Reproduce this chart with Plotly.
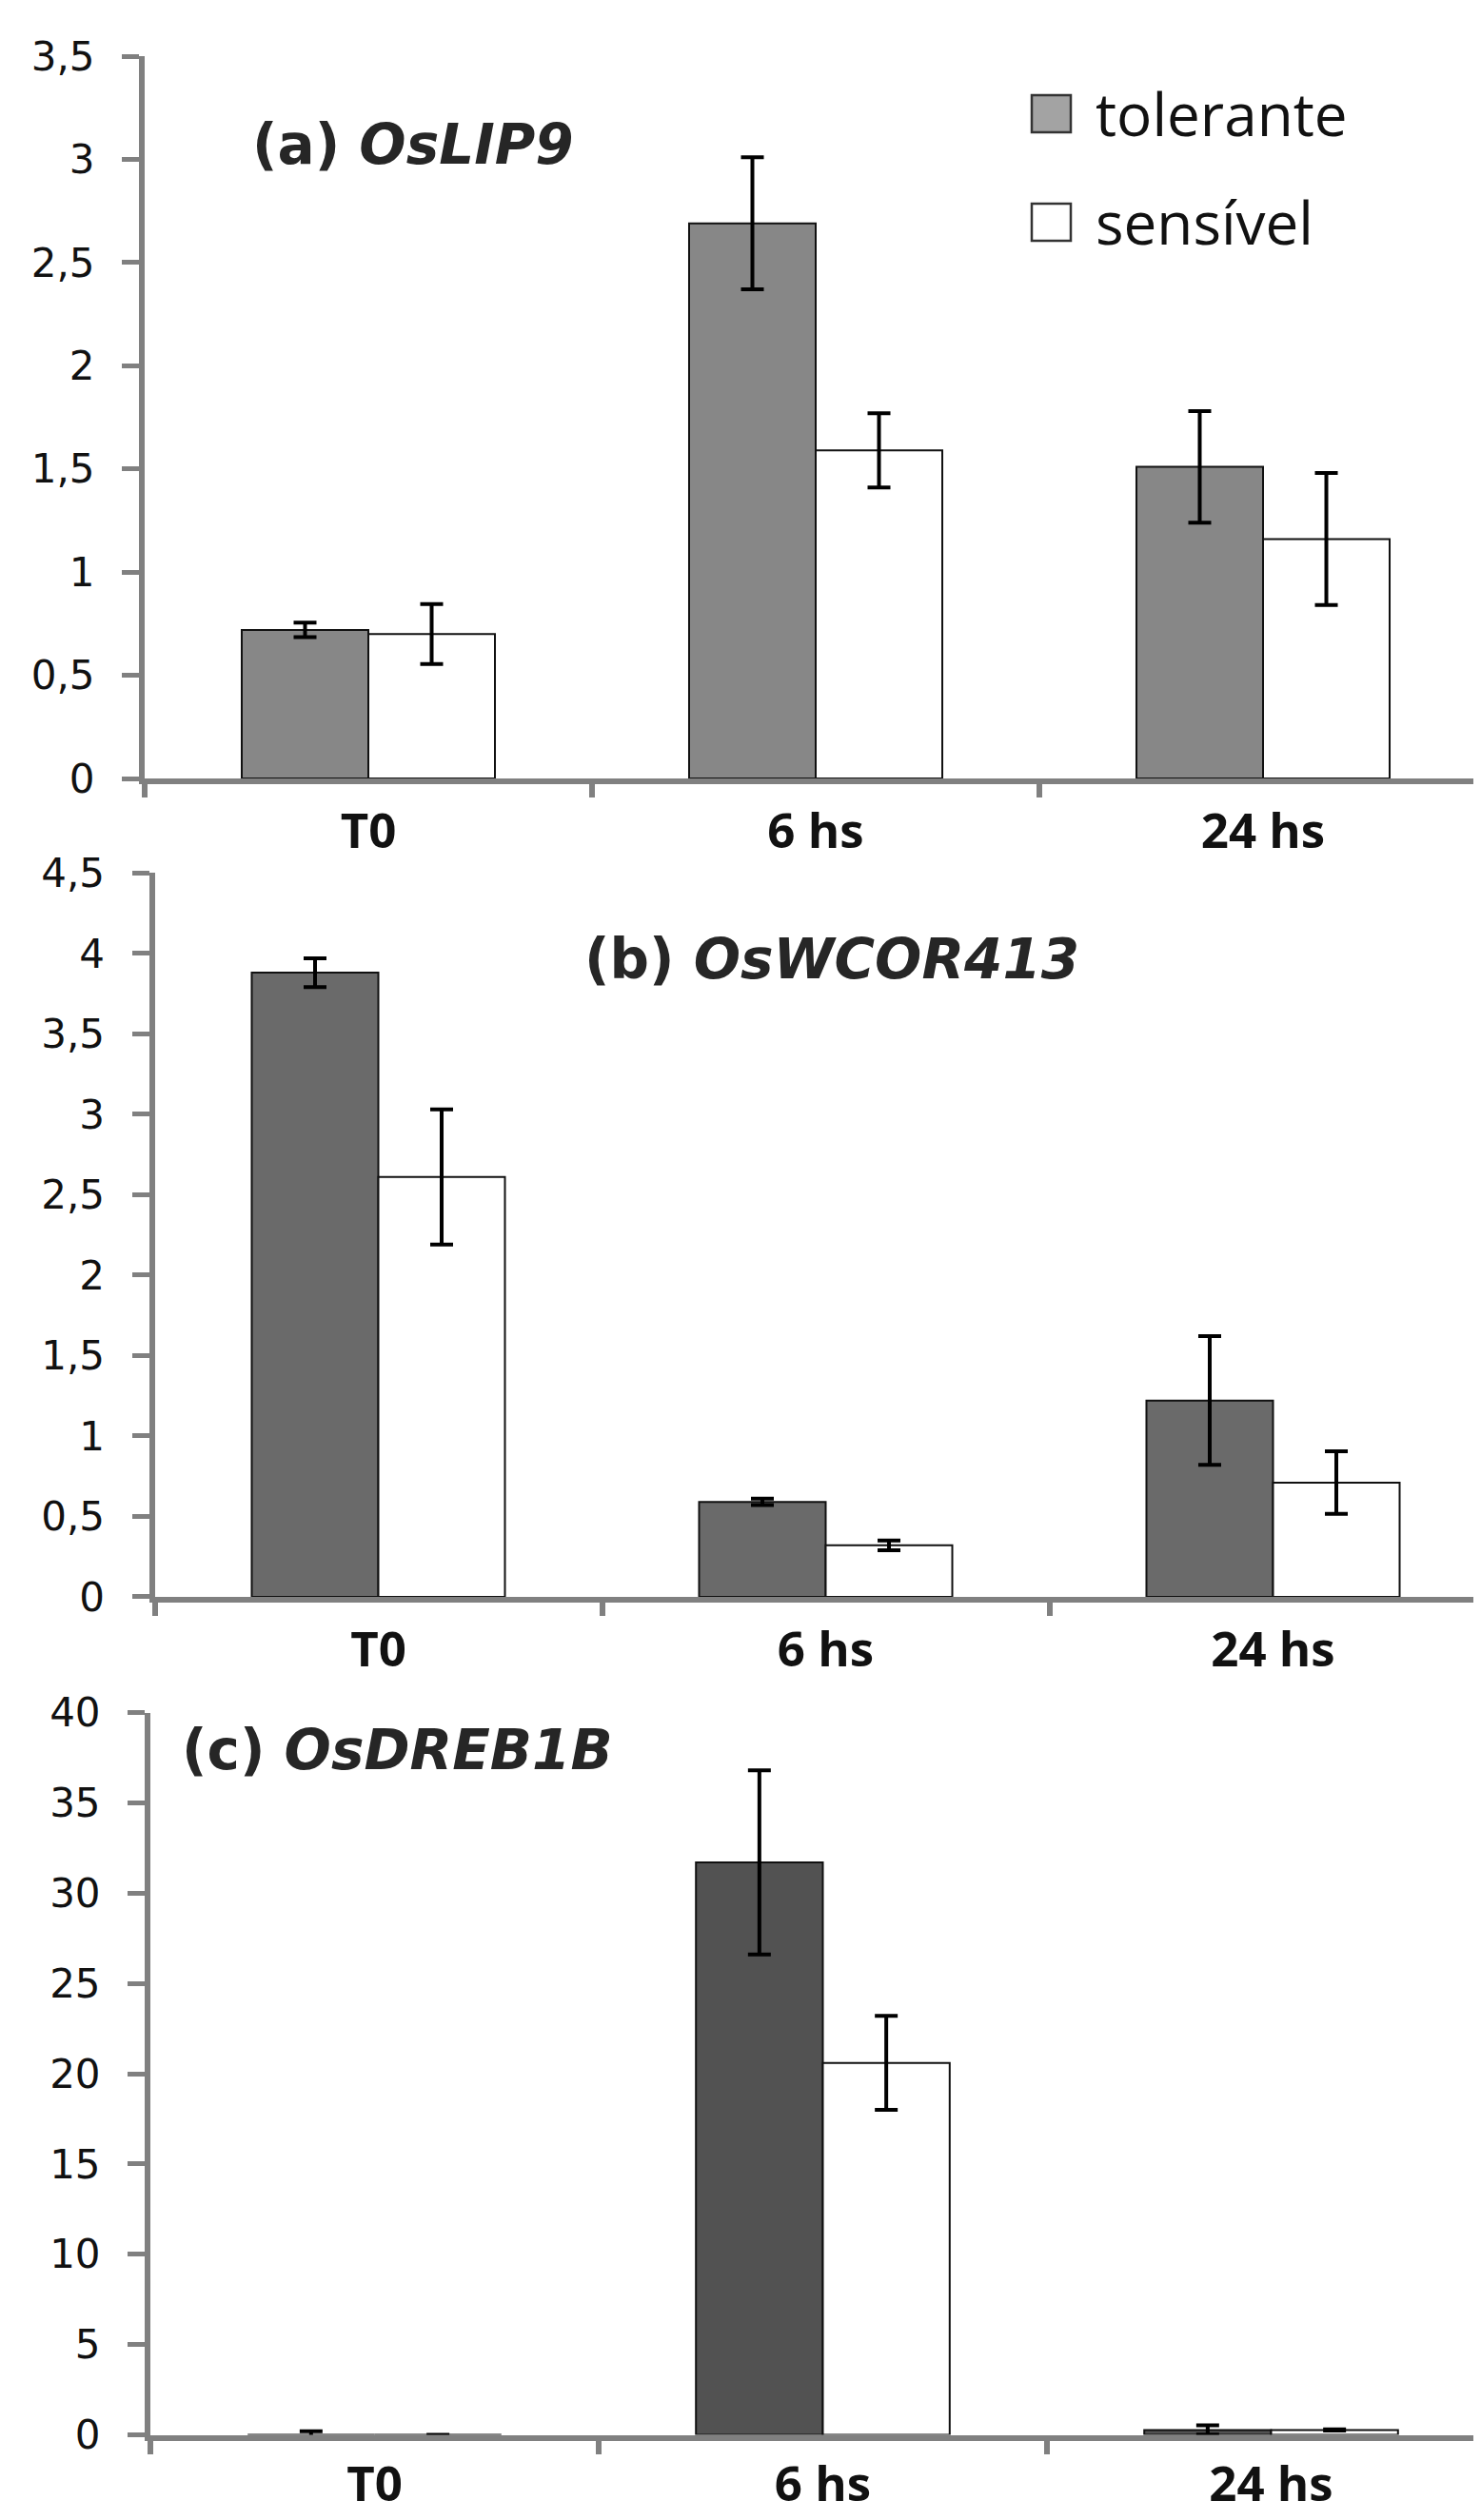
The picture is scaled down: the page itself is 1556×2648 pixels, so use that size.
import plotly.graph_objects as go

# ---------------- data ----------------
categories = ["T0", "6 hs", "24 hs"]
series_names = ["tolerante", "sensível"]

# (a) OsLIP9
a_tol = [0.72, 2.69, 1.51]
a_tol_err = [0.035, 0.32, 0.27]
a_sen = [0.70, 1.59, 1.16]
a_sen_err = [0.145, 0.18, 0.32]

# (b) OsWCOR413
b_tol = [3.88, 0.59, 1.22]
b_tol_err = [0.09, 0.02, 0.40]
b_sen = [2.61, 0.32, 0.71]
b_sen_err = [0.42, 0.03, 0.195]

# (c) OsDREB1B
c_tol = [0.0, 31.7, 0.27]
c_tol_err = [0.2, 5.1, 0.26]
c_sen = [0.0, 20.6, 0.27]
c_sen_err = [0.0, 2.6, 0.03]

panel_titles = ["<b>(a) <i>OsLIP9</i></b>", "<b>(b) <i>OsWCOR413</i></b>", "<b>(c) <i>OsDREB1B</i></b>"]
y_ranges = [[0, 3.5], [0, 4.5], [0, 40]]
y_dticks = [0.5, 0.5, 5]

# ---------------- styling ----------------
W, H = 1556, 2648
OFF = 8  # page body margin offset compensation
tol_colors = ["#878787", "#6a6a6a", "#525252"]
sen_color = "#ffffff"
axis_gray = "#808080"

# panel geometry (screen pixels): y-axis x, category width, top-of-range y, zero y
panels = [
    dict(left=152.0, catw=470.0, ytop=59.1, y0=818.0),
    dict(left=162.5, catw=470.0, ytop=917.3, y0=1677.9),
    dict(left=158.0, catw=471.0, ytop=1799.6, y0=2558.5),
]
x_standoffs = [6, 6, 2]
title_pos = [(263, 152), (612, 1008), (189, 1839)]


def px(x):
    return (x - OFF) / W


def py(y):
    return 1 - (y - OFF) / H


fig = go.Figure()
layout_axes = {}
for i, (tol, tol_e, sen, sen_e) in enumerate([
    (a_tol, a_tol_err, a_sen, a_sen_err),
    (b_tol, b_tol_err, b_sen, b_sen_err),
    (c_tol, c_tol_err, c_sen, c_sen_err),
]):
    sfx = "" if i == 0 else str(i + 1)
    xa, ya = "x" + sfx, "y" + sfx
    err_style = dict(type="data", color="#000000", thickness=4, width=12)
    fig.add_trace(go.Bar(
        x=categories, y=tol, name=series_names[0], xaxis=xa, yaxis=ya,
        marker=dict(color=tol_colors[i], line=dict(color="#111111", width=2)),
        error_y=dict(array=tol_e, **err_style), showlegend=False,
        offsetgroup="tol",
    ))
    fig.add_trace(go.Bar(
        x=categories, y=sen, name=series_names[1], xaxis=xa, yaxis=ya,
        marker=dict(color=sen_color, line=dict(color="#111111", width=2)),
        error_y=dict(array=sen_e, **err_style), showlegend=False,
        offsetgroup="sen",
    ))
    p = panels[i]
    x_left = px(p["left"])
    xr_right = -0.5 + (W - (p["left"] - OFF)) / p["catw"]
    layout_axes["xaxis" + sfx] = dict(
        domain=[x_left, 1.0], range=[-0.5, xr_right], type="category",
        anchor=ya, showline=True, linecolor=axis_gray, linewidth=6,
        ticks="outside", tickson="boundaries", ticklen=14, tickwidth=6, tickcolor=axis_gray,
        tickfont=dict(family="Open Sans", size=51, color="#111111", weight="bold"),
        ticklabelstandoff=x_standoffs[i],
        showgrid=False, zeroline=False, fixedrange=True, automargin=False,
    )
    layout_axes["yaxis" + sfx] = dict(
        domain=[py(p["y0"]), py(p["ytop"])], range=y_ranges[i], dtick=y_dticks[i],
        anchor=xa, showline=True, linecolor=axis_gray, linewidth=6,
        ticks="outside", ticklen=18, tickwidth=5, tickcolor=axis_gray,
        tickfont=dict(family="DejaVu Sans", size=42, color="#111111"),
        ticklabelstandoff=20,
        showgrid=False, zeroline=False, fixedrange=True, automargin=False,
    )

annotations = []
for t, (tx, ty) in zip(panel_titles, title_pos):
    annotations.append(dict(
        text=t, x=px(tx), y=py(ty), xref="paper", yref="paper",
        xanchor="left", yanchor="middle", showarrow=False,
        font=dict(family="DejaVu Sans", size=58, color="#262626"),
    ))

# legend (drawn manually to match large swatches)
legend_rows = [(series_names[0], "#a3a3a3", 100, 139), (series_names[1], "#ffffff", 214, 253)]
shapes = []
for name, col, y1p, y2p in legend_rows:
    shapes.append(dict(
        type="rect", xref="paper", yref="paper",
        x0=px(1084), x1=px(1125), y0=py(y2p), y1=py(y1p),
        fillcolor=col, line=dict(color="#333333", width=2.5),
    ))
    annotations.append(dict(
        text=name, x=px(1149), y=py((y1p + y2p) / 2), xref="paper", yref="paper",
        xanchor="left", yanchor="middle", showarrow=False,
        font=dict(family="Open Sans", size=62, color="#111111"),
    ))

fig.update_layout(
    width=W, height=H, margin=dict(l=0, r=0, t=0, b=0, pad=0, autoexpand=False),
    paper_bgcolor="white", plot_bgcolor="white",
    barmode="group", bargap=0.434, bargroupgap=0.0,
    separators=", ",
    showlegend=False,
    annotations=annotations, shapes=shapes,
    **layout_axes,
)

fig.write_html("out.html")
